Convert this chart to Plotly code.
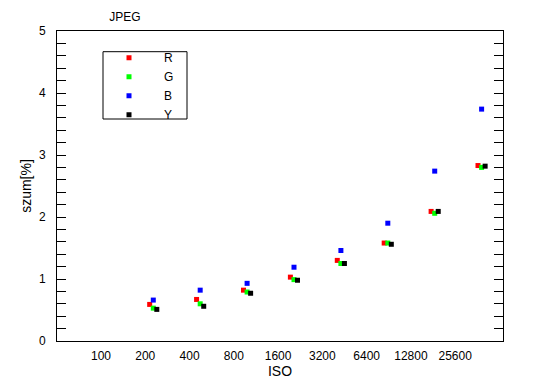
import math
import plotly.graph_objects as go

# ---- data ----
iso_labels = ["100", "200", "400", "800", "1600", "3200", "6400", "12800", "25600"]
iso_measured = [200, 400, 800, 1600, 3200, 6400, 12800, 25600]
noise_R = [0.59, 0.67, 0.82, 1.03, 1.30, 1.58, 2.09, 2.83]
noise_G = [0.53, 0.60, 0.79, 0.99, 1.25, 1.58, 2.06, 2.80]
noise_B = [0.66, 0.82, 0.93, 1.19, 1.46, 1.90, 2.74, 3.74]
noise_Y = [0.51, 0.56, 0.77, 0.98, 1.25, 1.56, 2.09, 2.82]

series = [
    ("R", noise_R, "#ff0000", -0.077),
    ("G", noise_G, "#00ff00", 0.0),
    ("B", noise_B, "#0000ff", 0.0),
    ("Y", noise_Y, "#000000", 0.075),
]

FONT = "Arial, 'Liberation Sans', sans-serif"

# page has an 8px body margin; figure sized to fit the 550x389 window
PAGE_OFF = 8
W, H = 550 - PAGE_OFF, 389 - PAGE_OFF
# plot area in page pixels: x 57..503, y 31..341
L, R_, T, B_ = 57 - PAGE_OFF, W - (503 - PAGE_OFF), 31 - PAGE_OFF, H - (341 - PAGE_OFF)

fig = go.Figure()
for name, vals, color, off in series:
    xs = [math.log2(v / 100.0) + off for v in iso_measured]
    fig.add_trace(go.Scatter(
        x=xs, y=vals, name=name, mode="markers", xaxis="x2",
        marker=dict(symbol="square", size=5, color=color, line=dict(width=0)),
    ))

# invisible trace on label axis to keep it active
fig.add_trace(go.Scatter(x=[0], y=[None], showlegend=False, hoverinfo="skip"))

fig.update_layout(
    width=W, height=H,
    margin=dict(l=L, r=R_, t=T, b=B_),
    paper_bgcolor="white", plot_bgcolor="white",
    font=dict(family=FONT, size=12, color="#000000"),
    title=dict(text="JPEG", xref="container", x=(125 - PAGE_OFF) / W, xanchor="center",
               yref="container", y=1 - (17 - PAGE_OFF) / H, yanchor="middle",
               font=dict(family=FONT, size=12, color="#000000")),
    showlegend=True,
    legend=dict(x=(94 - 57) / 446, y=(341 - 43.2) / 310, xanchor="left", yanchor="top",
                bgcolor="rgba(0,0,0,0)", borderwidth=0, itemwidth=60,
                font=dict(family=FONT, size=12, color="#000000")),
    xaxis=dict(
        range=[-0.994, 9.08], tickmode="array",
        tickvals=list(range(len(iso_labels))), ticktext=iso_labels,
        ticks="", showgrid=False, zeroline=False,
        showline=True, linecolor="#000000", linewidth=1, mirror=True,
        ticklabelstandoff=4,
        title=dict(text="ISO", standoff=0),
    ),
    xaxis2=dict(
        range=[-1.053, 8.456], overlaying="x", visible=False,
        showgrid=False, zeroline=False,
    ),
    yaxis=dict(
        range=[0, 5], dtick=1, tick0=0,
        ticks="inside", ticklen=9, tickcolor="#000000", tickwidth=1,
        minor=dict(dtick=0.2, ticks="inside", ticklen=5, tickcolor="#000000", tickwidth=1),
        showgrid=False, zeroline=False,
        showline=True, linecolor="#000000", linewidth=1, mirror="allticks",
        ticklabelstandoff=8,
        title=dict(text="szum[%]", standoff=4),
    ),
    shapes=[dict(type="rect", xref="paper", yref="paper",
                 x0=(103 - 57) / 446, x1=(187 - 57) / 446,
                 y0=(341 - 119) / 310, y1=(341 - 51.7) / 310,
                 line=dict(color="#000000", width=1), fillcolor="rgba(0,0,0,0)")],
)

fig.write_html("out.html")
